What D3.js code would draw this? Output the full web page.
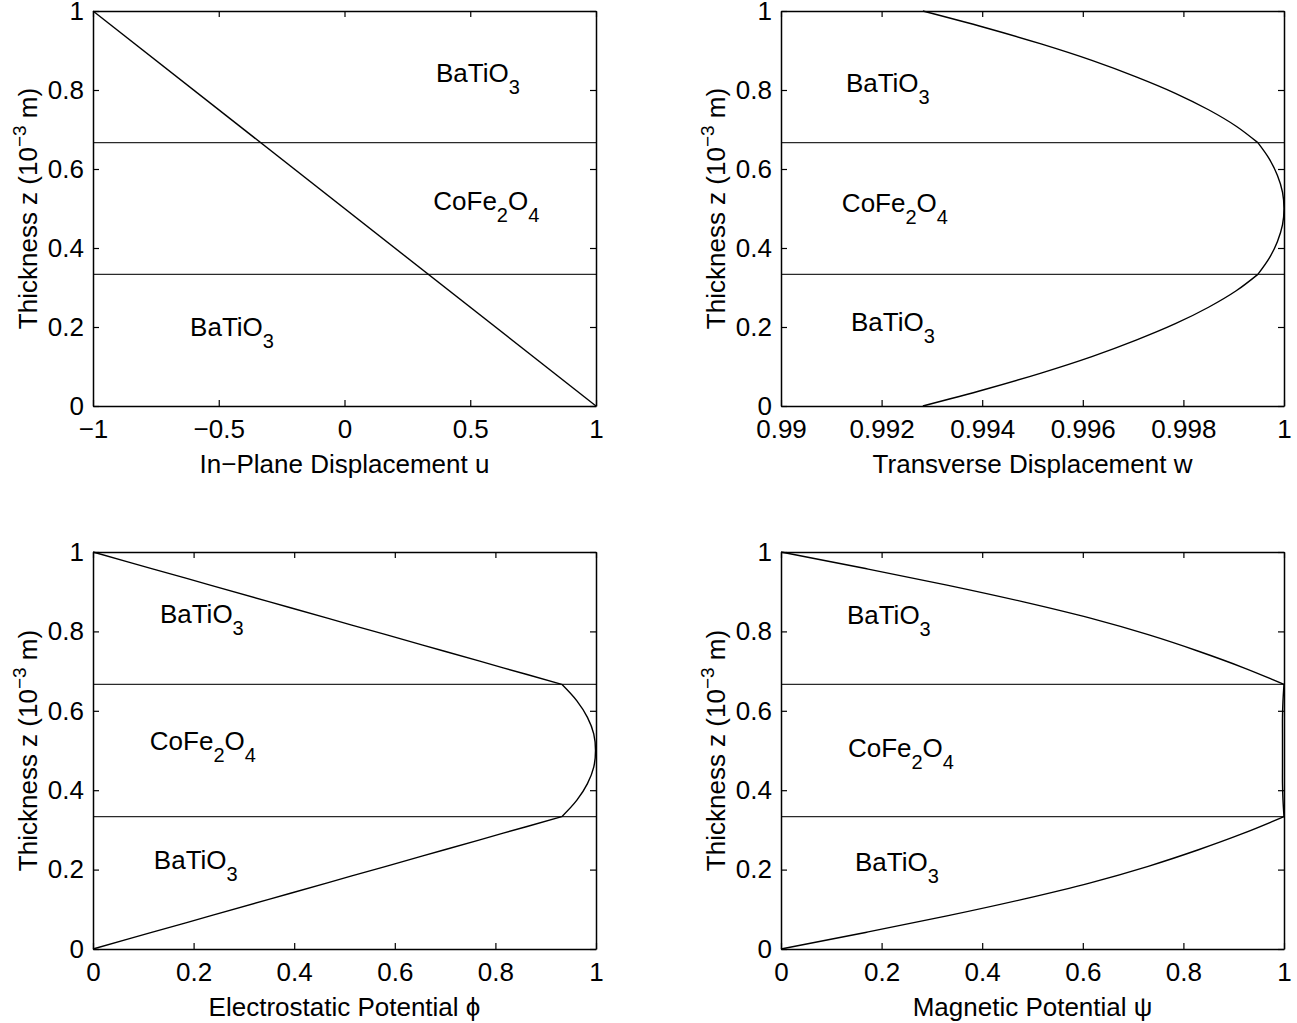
<!DOCTYPE html>
<html>
<head>
<meta charset="utf-8">
<script src="https://cdn.jsdelivr.net/npm/d3@7"></script>
<style>
  body { margin: 0; background: #fff; }
  svg { display: block; }
  text { font-family: "Liberation Sans", Arial, Helvetica, sans-serif; }
</style>
</head>
<body>
<div id="chart"></div>
<script>
// thickness samples (10^-3 m), one array per layer
const zLow  = [0, 0.0417, 0.0833, 0.125, 0.1667, 0.2083, 0.25, 0.2917, 0.3333];
const zMid  = [0.3333, 0.375, 0.4167, 0.4583, 0.5, 0.5417, 0.5833, 0.625, 0.6667];
const zHigh = [0.6667, 0.7083, 0.75, 0.7917, 0.8333, 0.875, 0.9167, 0.9583, 1];
const interfaces = [0.3333, 0.6667];

// in-plane displacement u (straight through the stack)
const uZ = [0, 1];
const uVal = [1, -1];

// transverse displacement w
const wLow  = [0.99282, 0.99405, 0.99517, 0.99618, 0.99706, 0.99784, 0.99850, 0.99905, 0.99948];
const wMid  = [0.99948, 0.99971, 0.99987, 0.99997, 1.0, 0.99997, 0.99987, 0.99971, 0.99948];
const wHigh = [0.99948, 0.99905, 0.99850, 0.99784, 0.99706, 0.99618, 0.99517, 0.99405, 0.99282];

// electrostatic potential phi
const phiLow  = [0, 0.1165, 0.233, 0.3495, 0.466, 0.5825, 0.699, 0.8155, 0.932];
const phiMid  = [0.932, 0.962, 0.983, 0.9955, 0.999, 0.9955, 0.983, 0.962, 0.932];
const phiHigh = [0.932, 0.8155, 0.699, 0.5825, 0.466, 0.3495, 0.233, 0.1165, 0];

// magnetic potential psi
const psiLow  = [0, 0.168, 0.330, 0.480, 0.615, 0.730, 0.830, 0.920, 1.0];
const psiMid  = [1.0, 0.998, 0.997, 0.997, 0.997, 0.997, 0.997, 0.998, 1.0];
const psiHigh = [1.0, 0.920, 0.830, 0.730, 0.615, 0.480, 0.330, 0.168, 0];

const yTicks = [0, 0.2, 0.4, 0.6, 0.8, 1];
const yTickLabels = ["0", "0.2", "0.4", "0.6", "0.8", "1"];

const W = 1297, H = 1023;
const FS = 26;

const svg = d3.select("#chart").append("svg")
  .attr("width", W).attr("height", H)
  .attr("viewBox", [0, 0, W, H]);

const fmtMinus = s => s.replace("-", "\u2212");

const panels = [
  {
    left: 93, right: 596, top: 11, bottom: 406,
    xDomain: [-1, 1],
    xTicks: [-1, -0.5, 0, 0.5, 1],
    xTickLabels: ["-1", "-0.5", "0", "0.5", "1"],
    xLabel: "In\u2212Plane Displacement u",
    segments: [[uZ, uVal]],
    labels: [
      {x: 0.364, z: 0.843, parts: [["BaTiO", 0], ["3", 1]]},
      {x: 0.353, z: 0.520, parts: [["CoFe", 0], ["2", 1], ["O", 0], ["4", 1]]},
      {x: -0.614, z: 0.20, parts: [["BaTiO", 0], ["3", 1]]}
    ]
  },
  {
    left: 781, right: 1284, top: 11, bottom: 406,
    xDomain: [0.99, 1],
    xTicks: [0.99, 0.992, 0.994, 0.996, 0.998, 1],
    xTickLabels: ["0.99", "0.992", "0.994", "0.996", "0.998", "1"],
    xLabel: "Transverse Displacement w",
    segments: [[zLow, wLow], [zMid, wMid], [zHigh, wHigh]],
    labels: [
      {x: 0.99129, z: 0.818, parts: [["BaTiO", 0], ["3", 1]]},
      {x: 0.99121, z: 0.515, parts: [["CoFe", 0], ["2", 1], ["O", 0], ["4", 1]]},
      {x: 0.99139, z: 0.213, parts: [["BaTiO", 0], ["3", 1]]}
    ]
  },
  {
    left: 93, right: 596, top: 552, bottom: 949,
    xDomain: [0, 1],
    xTicks: [0, 0.2, 0.4, 0.6, 0.8, 1],
    xTickLabels: ["0", "0.2", "0.4", "0.6", "0.8", "1"],
    xLabel: "Electrostatic Potential \u03d5",
    segments: [[zLow, phiLow], [zMid, phiMid], [zHigh, phiHigh]],
    labels: [
      {x: 0.133, z: 0.844, parts: [["BaTiO", 0], ["3", 1]]},
      {x: 0.113, z: 0.524, parts: [["CoFe", 0], ["2", 1], ["O", 0], ["4", 1]]},
      {x: 0.121, z: 0.224, parts: [["BaTiO", 0], ["3", 1]]}
    ]
  },
  {
    left: 781, right: 1284, top: 552, bottom: 949,
    xDomain: [0, 1],
    xTicks: [0, 0.2, 0.4, 0.6, 0.8, 1],
    xTickLabels: ["0", "0.2", "0.4", "0.6", "0.8", "1"],
    xLabel: "Magnetic Potential \u03c8",
    segments: [[zLow, psiLow], [zMid, psiMid], [zHigh, psiHigh]],
    labels: [
      {x: 0.131, z: 0.841, parts: [["BaTiO", 0], ["3", 1]]},
      {x: 0.133, z: 0.506, parts: [["CoFe", 0], ["2", 1], ["O", 0], ["4", 1]]},
      {x: 0.147, z: 0.219, parts: [["BaTiO", 0], ["3", 1]]}
    ]
  }
];

function drawPanel(p) {
  const g = svg.append("g");
  const x = d3.scaleLinear().domain(p.xDomain).range([p.left, p.right]);
  const y = d3.scaleLinear().domain([0, 1]).range([p.bottom, p.top]);

  // layer interfaces
  g.append("g").selectAll("line")
    .data(interfaces)
    .join("line")
      .attr("x1", p.left).attr("x2", p.right)
      .attr("y1", d => y(d)).attr("y2", d => y(d))
      .attr("stroke", "#2a2a2a")
      .attr("stroke-width", 1.3);

  // curves, one path per layer so the kinks stay
  const line = d3.line()
    .x(d => x(d[1]))
    .y(d => y(d[0]))
    .curve(d3.curveCatmullRom);

  p.segments.forEach(([zs, vs]) => {
    g.append("path")
      .datum(d3.zip(zs, vs))
      .attr("d", line)
      .attr("fill", "none")
      .attr("stroke", "#000")
      .attr("stroke-width", 1.4);
  });

  // axes, MATLAB style: ticks inward on all four sides
  const styleAxis = a => {
    a.select(".domain").attr("stroke", "#000").attr("stroke-width", 1.5);
    a.selectAll(".tick line").attr("stroke", "#000").attr("stroke-width", 1.2);
    a.selectAll("text").attr("font-size", FS).attr("fill", "#000")
      .attr("font-family", "Liberation Sans, Arial, sans-serif");
  };

  g.append("g")
    .attr("transform", `translate(0,${p.bottom})`)
    .call(d3.axisBottom(x).tickValues(p.xTicks)
      .tickFormat((d, i) => fmtMinus(p.xTickLabels[i]))
      .tickSizeInner(-6).tickSizeOuter(0).tickPadding(14))
    .call(styleAxis);

  g.append("g")
    .attr("transform", `translate(0,${p.top})`)
    .call(d3.axisTop(x).tickValues(p.xTicks).tickFormat("")
      .tickSizeInner(-6).tickSizeOuter(0))
    .call(styleAxis);

  g.append("g")
    .attr("transform", `translate(${p.left},0)`)
    .call(d3.axisLeft(y).tickValues(yTicks)
      .tickFormat((d, i) => yTickLabels[i])
      .tickSizeInner(-6).tickSizeOuter(0).tickPadding(9))
    .call(styleAxis);

  g.append("g")
    .attr("transform", `translate(${p.right},0)`)
    .call(d3.axisRight(y).tickValues(yTicks).tickFormat("")
      .tickSizeInner(-6).tickSizeOuter(0))
    .call(styleAxis);

  // x label
  g.append("text")
    .attr("x", (p.left + p.right) / 2)
    .attr("y", p.bottom + 67)
    .attr("text-anchor", "middle")
    .attr("font-size", FS)
    .text(p.xLabel);

  // y label
  const yl = g.append("text")
    .attr("transform", `translate(${p.left - 56},${(p.top + p.bottom) / 2}) rotate(-90)`)
    .attr("text-anchor", "middle")
    .attr("font-size", FS);
  yl.append("tspan").text("Thickness z (10");
  yl.append("tspan").attr("dy", -11).attr("font-size", 19).text("\u22123");
  yl.append("tspan").attr("dy", 11).text(" m)");

  // layer names
  p.labels.forEach(l => {
    const t = g.append("text")
      .attr("x", x(l.x))
      .attr("y", y(l.z))
      .attr("dy", "0.36em")
      .attr("font-size", FS);
    let shifted = false;
    l.parts.forEach(([s, sub]) => {
      const ts = t.append("tspan").text(s);
      if (sub) { ts.attr("dy", 12).attr("font-size", 20); shifted = true; }
      else if (shifted) { ts.attr("dy", -12); shifted = false; }
    });
  });
}

panels.forEach(drawPanel);
</script>
</body>
</html>
